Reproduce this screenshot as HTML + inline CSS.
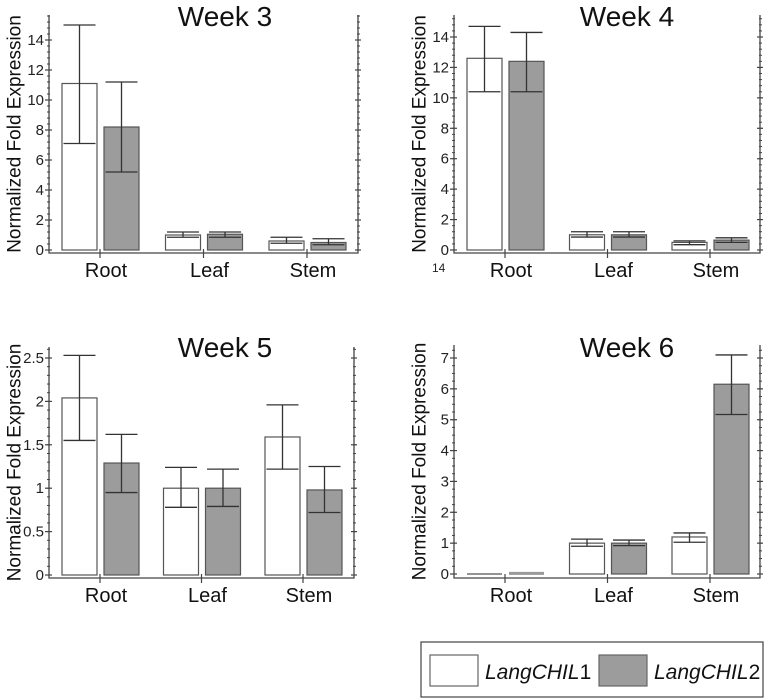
<!DOCTYPE html>
<html><head><meta charset="utf-8"><style>
body{margin:0;background:#fff;}
svg{display:block;font-family:"Liberation Sans",Arial,sans-serif;}
</style></head><body>
<svg id="chart" width="767" height="700" viewBox="0 0 767 700" xmlns="http://www.w3.org/2000/svg"></svg>
<script>
const categories = ["Root","Leaf","Stem"];
const titles = ["Week 3","Week 4","Week 5","Week 6"];
// LangCHIL1 means per panel
const chil1W3 = [11.1, 1.0, 0.6];
const chil1W4 = [12.6, 1.0, 0.5];
const chil1W5 = [2.04, 1.0, 1.59];
const chil1W6 = [0.0, 1.0, 1.2];
// LangCHIL2 means
const chil2W3 = [8.2, 1.05, 0.5];
const chil2W4 = [12.4, 1.0, 0.65];
const chil2W5 = [1.29, 1.0, 0.98];
const chil2W6 = [0.02, 1.0, 6.15];
// error bar low / high
const chil1LoW3 = [7.1, 0.85, 0.45], chil1HiW3 = [15.0, 1.2, 0.85];
const chil2LoW3 = [5.2, 0.85, 0.35], chil2HiW3 = [11.2, 1.2, 0.75];
const chil1LoW4 = [10.4, 0.85, 0.35], chil1HiW4 = [14.7, 1.2, 0.6];
const chil2LoW4 = [10.4, 0.85, 0.5], chil2HiW4 = [14.3, 1.2, 0.8];
const chil1LoW5 = [1.55, 0.78, 1.22], chil1HiW5 = [2.53, 1.24, 1.96];
const chil2LoW5 = [0.95, 0.79, 0.72], chil2HiW5 = [1.62, 1.22, 1.25];
const chil1LoW6 = [0, 0.9, 1.03], chil1HiW6 = [0, 1.13, 1.33];
const chil2LoW6 = [0, 0.92, 5.17], chil2HiW6 = [0.04, 1.1, 7.1];
const ticksW3 = [0,2,4,6,8,10,12,14];
const ticksW4 = [0,2,4,6,8,10,12,14];
const ticksW5 = [0,0.5,1,1.5,2,2.5];
const ticksW6 = [0,1,2,3,4,5,6,7];
const tickLabelsW5 = ["0","0.5","1","1.5","2","2.5"];

const NS="http://www.w3.org/2000/svg";
const svg=document.getElementById('chart');
function mk(tag,attrs,parent){const e=document.createElementNS(NS,tag);for(const k in attrs)e.setAttribute(k,attrs[k]);(parent||svg).appendChild(e);return e;}

const panels=[
 {t:titles[0],a:chil1W3,b:chil2W3,al:chil1LoW3,ah:chil1HiW3,bl:chil2LoW3,bh:chil2HiW3,ticks:ticksW3,labels:null,L:49,R:358,T:15,B:253,y0:250,yMaxV:14,yMaxP:40,cat0:100,catW:103.5,ylab:15,tx:225,ty:26,minor:5},
 {t:titles[1],a:chil1W4,b:chil2W4,al:chil1LoW4,ah:chil1HiW4,bl:chil2LoW4,bh:chil2HiW4,ticks:ticksW4,labels:null,L:454,R:760,T:15,B:253,y0:250,yMaxV:14,yMaxP:37,cat0:505,catW:102.5,ylab:420,tx:627,ty:26,minor:5},
 {t:titles[2],a:chil1W5,b:chil2W5,al:chil1LoW5,ah:chil1HiW5,bl:chil2LoW5,bh:chil2HiW5,ticks:ticksW5,labels:tickLabelsW5,L:49,R:354,T:347,B:578,y0:575,yMaxV:2.5,yMaxP:358,cat0:100,catW:101.5,ylab:15,tx:225,ty:357,minor:5},
 {t:titles[3],a:chil1W6,b:chil2W6,al:chil1LoW6,ah:chil1HiW6,bl:chil2LoW6,bh:chil2HiW6,ticks:ticksW6,labels:null,L:454,R:760,T:345,B:578,y0:574,yMaxV:7,yMaxP:358,cat0:505,catW:102.5,ylab:420,tx:627,ty:357,minor:4}
];

panels.forEach((p,pi)=>{
  const g=mk('g',{});
  
  
  const y=v=>p.y0-(v/p.yMaxV)*(p.y0-p.yMaxP);
  const x=i=>p.cat0+i*p.catW;
  const tt=mk('text',{x:p.tx,y:p.ty,'text-anchor':'middle','font-size':28,fill:'#111'},g);tt.textContent=p.t;
  
  
  const cy=(p.T+p.B)/2;
  const yt=mk('text',{x:p.ylab,y:cy,'text-anchor':'middle','font-size':19,fill:'#111',transform:`rotate(-90 ${p.ylab} ${cy})`,'dominant-baseline':'central'},g);
  yt.textContent='Normalized Fold Expression';
  
  
  const ax=mk('path',{d:`M${p.L},${p.T} V${p.B} H${p.R} V${p.T}`,fill:'none',stroke:'#444','stroke-width':1.3},g);
  
  
  const step=p.ticks[1]-p.ticks[0];
  for(let v=0;v<=p.yMaxV+step*0.99;v+=step/p.minor){
    const yy=y(v); if(yy<p.T) break;
    mk('line',{x1:p.L-2,x2:p.L+1,y1:yy,y2:yy,stroke:'#444','stroke-width':1},g);
    mk('line',{x1:p.R-1,x2:p.R+2,y1:yy,y2:yy,stroke:'#444','stroke-width':1},g);
  }
  p.ticks.forEach((v,i)=>{
    const yy=y(v);
    mk('line',{x1:p.L-4,x2:p.L+3,y1:yy,y2:yy,stroke:'#444','stroke-width':1.2},g);
    mk('line',{x1:p.R-3,x2:p.R+3,y1:yy,y2:yy,stroke:'#444','stroke-width':1.2},g);
    const tl=mk('text',{x:p.L-5,y:yy+5,'text-anchor':'end','font-size':15,fill:'#222'},g);
    tl.textContent=p.labels?p.labels[i]:String(v);
    
    
  });
  categories.forEach((c,i)=>{
    const cx=x(i);
    mk('line',{x1:cx,x2:cx,y1:p.B-4,y2:p.B+5,stroke:'#444','stroke-width':1.2},g);
    const cl=mk('text',{x:cx+6,y:p.B+24,'text-anchor':'middle','font-size':20,fill:'#111'},g);
    cl.textContent=c;
    
    
    const series=[[p.a,p.al,p.ah,'#fff',-38],[p.b,p.bl,p.bh,'#9c9c9c',4]];
    series.forEach((s,si)=>{
      const v=s[0][i], bx=cx+s[4], w=35;
      let r;
      if(v<0.03){
        r=mk('line',{x1:bx,x2:bx+w,y1:y(v),y2:y(v),stroke:si?'#999':'#555','stroke-width':si?3:1.3},g);
      } else {
        r=mk('rect',{x:bx,y:y(v),width:w,height:p.y0-y(v),fill:s[3],stroke:'#555','stroke-width':1.2},g);
      }
      
      
      const lo=s[1][i],hi=s[2][i];
      if(hi-lo>0.0001 && v>=0.03){
        const ex=bx+w/2;
        const eg=mk('g',{stroke:'#333','stroke-width':1.3},g);
        
        
        mk('line',{x1:ex,x2:ex,y1:y(hi),y2:y(lo)},eg);
        mk('line',{x1:ex-16,x2:ex+16,y1:y(hi),y2:y(hi)},eg);
        mk('line',{x1:ex-16,x2:ex+16,y1:y(lo),y2:y(lo)},eg);
      }
    });
  });
});
const s14=mk('text',{x:432,y:272,'font-size':12,fill:'#222'});s14.textContent='14';


const lg=mk('g',{});


mk('rect',{x:421,y:642,width:342,height:55,fill:'#fff',stroke:'#444','stroke-width':1.2},lg);
const sw1=mk('rect',{x:430,y:655,width:48,height:31,fill:'#fff',stroke:'#666','stroke-width':1.2},lg);


const sw2=mk('rect',{x:599,y:655,width:48,height:31,fill:'#9c9c9c',stroke:'#666','stroke-width':1.2},lg);


[[485,'1'],[654,'2']].forEach(([lx,n])=>{
  const t=mk('text',{x:lx,y:679,'font-size':21,fill:'#111'},lg);
  t.innerHTML='<tspan font-style="italic">LangCHIL</tspan>'+n;
  
  
});
</script>
</body></html>
